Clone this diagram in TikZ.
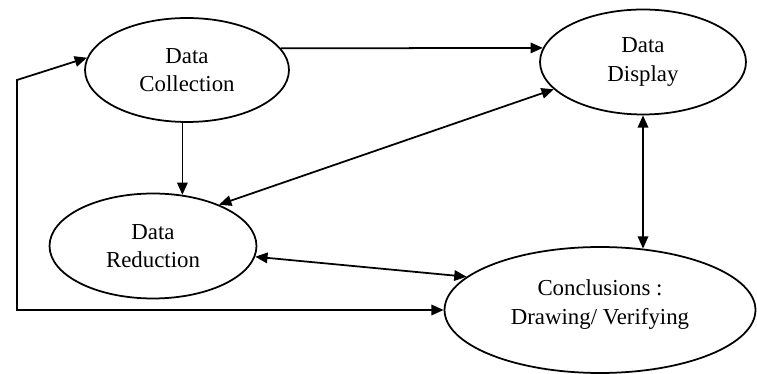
\documentclass[tikz,border=0pt]{standalone}
\usepackage{fontspec}
\setmainfont{Liberation Serif}
\usetikzlibrary{shapes.geometric, arrows.meta}

\begin{document}
\begin{tikzpicture}[x=0.02cm, y=-0.02cm,
	stage/.style={shape=ellipse, draw, line width=1pt, align=center, inner sep=0pt, font=\fontsize{13}{16}\selectfont},
	flow/.style={line width=1pt, -{Triangle[length=7pt, width=6pt]}},
	flows/.style={line width=1pt, {Triangle[length=7pt, width=6pt]}-{Triangle[length=7pt, width=6pt]}}]
	\useasboundingbox (0, 0) rectangle (757, 374);
	% Stages and arrows:
	\node[stage, minimum width=4.08cm, minimum height=2.08cm] (coll) at (187, 70) {Data\\Collection};
	\node[stage, minimum width=4.12cm, minimum height=2.1cm] (disp) at (643, 62) {Data\\Display};
	\node[stage, minimum width=4.14cm, minimum height=2.1cm] (red) at (153, 246) {Data\\Reduction};
	\node[stage, minimum width=6.22cm, minimum height=2.52cm, label={[name=concl-text, align=center, font=\fontsize{13}{16.5}\selectfont, yshift=0.1cm]center:Conclusions :\\Drawing/ Verifying}] (concl) at (600, 310) {};
	\coordinate (loop) at (17, 80);
	\draw[flow] (coll.13) -- (disp.172);
	\draw[flow] (coll.265) -- (coll.265 |- red.60);
	\draw[flows] (disp.197) -- (red.32);
	\draw[flows] (disp.south) -- (disp.south |- concl.55);
	\draw[flows] (red.354) -- (concl.166);
	\draw[flows] (coll.173) -- (loop) -- (loop |- concl.west) -- (concl.west);
\end{tikzpicture}
\end{document}
